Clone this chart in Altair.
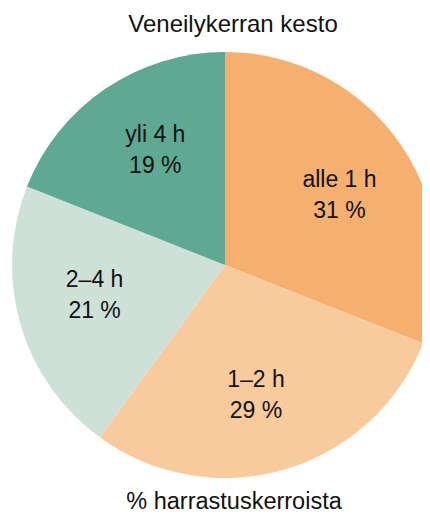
import altair as alt
import pandas as pd

categories = ["alle 1 h", "1–2 h", "2–4 h", "yli 4 h"]
shares = [31, 29, 21, 19]
colors = ["#F5B070", "#F9CB9C", "#CDE1D9", "#5FA892"]
title_text = "Veneilykerran kesto"
caption_text = "% harrastuskerroista"

df = pd.DataFrame({
    "cat": categories,
    "value": shares,
    "order": list(range(len(categories))),
})
df["label"] = df["cat"] + "\n" + df["value"].astype(str) + " %"

FONT = "Liberation Sans"
CX, CY, R = 217, 257, 213

base = alt.Chart(df).encode(
    theta=alt.Theta("value:Q", stack=True),
    order=alt.Order("order:Q"),
)

arcs = base.mark_arc(radius=R, stroke=None).encode(
    x=alt.value(CX),
    y=alt.value(CY),
    color=alt.Color("cat:N", scale=alt.Scale(domain=categories, range=colors), legend=None),
)

labels = base.mark_text(
    radius=134, thetaOffset=0.05, font=FONT, fontSize=23, lineBreak="\n", lineHeight=31,
    align="center", baseline="middle", dy=-15.5, color="#111111",
).encode(
    x=alt.value(CX),
    y=alt.value(CY),
    text=alt.Text("label:N"),
)

title = alt.Chart(pd.DataFrame({"t": [title_text]})).mark_text(
    font=FONT, fontSize=24, align="center", baseline="alphabetic", color="#111111",
).encode(x=alt.value(225), y=alt.value(24), text="t:N")

caption = alt.Chart(pd.DataFrame({"t": [caption_text]})).mark_text(
    font=FONT, fontSize=23.5, align="center", baseline="alphabetic", color="#111111",
).encode(x=alt.value(226), y=alt.value(501), text="t:N")

chart = alt.layer(arcs, labels, title, caption).properties(
    width=414, height=507, padding=0,
    autosize=alt.AutoSizeParams(type="none"),
).configure_view(stroke=None)

chart.save("out.html", embed_options={"renderer": "svg", "actions": False})
